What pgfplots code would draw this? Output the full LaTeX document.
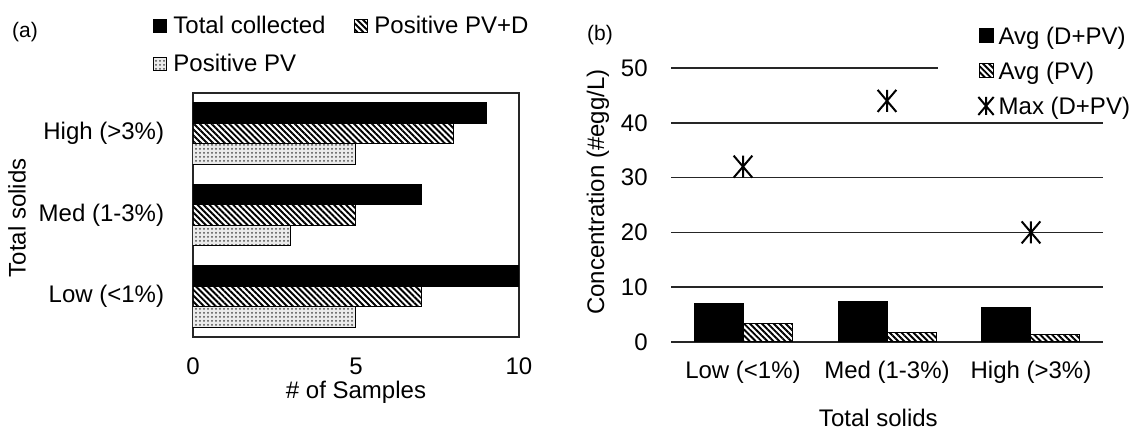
\documentclass[border=0pt,12pt]{standalone}
\usepackage{fontspec}
\setmainfont{Liberation Sans}
\usepackage{pgfplots}
\pgfplotsset{compat=1.18}
\usetikzlibrary{patterns.meta}

% six-armed star used for the maximum values
\pgfdeclareplotmark{maxstar}{%
  \pgfpathmoveto{\pgfqpoint{0pt}{-\pgfplotmarksize}}%
  \pgfpathlineto{\pgfqpoint{0pt}{\pgfplotmarksize}}%
  \pgfpathmoveto{\pgfqpoint{-0.85\pgfplotmarksize}{-\pgfplotmarksize}}%
  \pgfpathlineto{\pgfqpoint{0.85\pgfplotmarksize}{\pgfplotmarksize}}%
  \pgfpathmoveto{\pgfqpoint{-0.85\pgfplotmarksize}{\pgfplotmarksize}}%
  \pgfpathlineto{\pgfqpoint{0.85\pgfplotmarksize}{-\pgfplotmarksize}}%
  \pgfusepathqstroke}

\tikzset{
  solid bar/.style={fill=black, draw=black, line width=0.5pt},
  hatch bar/.style={draw=black, line width=0.5pt,
    pattern={Lines[angle=-45,distance=2.1pt,line width=0.95pt]}, pattern color=black},
  dot bar/.style={draw=black, line width=0.5pt, fill=black!8,
    postaction={pattern={Dots[distance=2pt,radius=0.5pt]}, pattern color=black!70}},
}
\pgfplotsset{
  small square/.style={legend image code/.code={\draw[##1] (0pt,-2.25pt) rectangle (6.5pt,4.25pt);}},
  big square/.style={legend image code/.code={\draw[##1] (0pt,-2.5pt) rectangle (7pt,4.5pt);}},
  star legend/.style={legend image code/.code={\draw[##1, mark size=4.5pt] plot coordinates {(3.5pt,1pt)};}},
}

\begin{document}
\begin{tikzpicture}

% (a) samples per solids class
\begin{axis}[
  at={(96.5pt,46pt)}, anchor=south west,
  scale only axis, width=163pt, height=122pt,
  xbar,
  xmin=0, xmax=10, ymin=-0.5, ymax=2.5,
  xtick={0,5,10}, ytick={0,1,2},
  yticklabels={{Low (<1\%)},{Med (1-3\%)},{High (>3\%)}},
  tick style={draw=none},
  axis line style={line width=0.8pt, black!85},
  /pgf/number format/assume math mode=true,
  xticklabel style={anchor=center, inner sep=0pt, yshift=-14.5pt},
  yticklabel style={anchor=east, inner sep=0pt, xshift=-10pt},
  xlabel={\# of Samples}, ylabel={Total solids},
  every axis x label/.style={at={(axis description cs:0.5,-0.225)}, anchor=center},
  every axis y label/.style={at={(axis description cs:-0.54,0.488)}, anchor=center, rotate=90},
  legend columns=2,
  legend cell align=left,
  legend style={at={(axis description cs:-0.1227,1.316)}, anchor=north west,
    draw=none, fill=none, inner sep=0pt,
    nodes={inner sep=0pt, text height=8.8pt, text depth=2.6pt},
    row sep=7.6pt, column sep=3pt,
    /tikz/every even column/.append style={column sep=14.5pt}},
]
\addplot[solid bar, bar width=10.25pt, bar shift=10.25pt, small square]
  coordinates {(10,0) (7,1) (9,2)};
\addplot[hatch bar, bar width=10.25pt, bar shift=0pt, small square]
  coordinates {(7,0) (5,1) (8,2)};
\addplot[dot bar, bar width=10.25pt, bar shift=-10.25pt, small square]
  coordinates {(5,0) (3,1) (5,2)};
\legend{Total collected, Positive PV+D, Positive PV}
\end{axis}

% (b) egg concentrations
\begin{axis}[
  at={(335.5pt,43.5pt)}, anchor=south west,
  scale only axis, width=216pt, height=137pt,
  xmin=-0.5, xmax=2.5, ymin=0, ymax=50,
  xtick={0,1,2}, xticklabels={{Low (<1\%)},{Med (1-3\%)},{High (>3\%)}},
  ytick={0,10,...,50},
  ymajorgrids, grid style={line width=0.75pt, black!85},
  axis line style={draw=none}, tick style={draw=none},
  /pgf/number format/assume math mode=true,
  xticklabel style={anchor=center, inner sep=0pt, yshift=-15pt},
  yticklabel style={anchor=east, inner sep=0pt, xshift=-11.5pt},
  xlabel={Total solids}, ylabel={Concentration (\#egg/L)},
  every axis x label/.style={at={(axis description cs:0.48,-0.277)}, anchor=center},
  every axis y label/.style={at={(axis description cs:-0.169,0.547)}, anchor=center, rotate=90},
  clip=false,
  legend style={at={(axis description cs:0.618,1.16)}, anchor=north west,
    draw=none, fill=white, inner xsep=20pt, inner ysep=1pt,
    nodes={inner sep=0pt, text height=8.8pt, text depth=2.6pt},
    row sep=6.1pt, column sep=2.5pt},
  legend cell align=left,
]
\addplot[ybar, solid bar, bar width=24.5pt, bar shift=-12.25pt, big square]
  coordinates {(0,7.0) (1,7.3) (2,6.3)};
\addplot[ybar, hatch bar, bar width=24.5pt, bar shift=12.25pt, big square]
  coordinates {(0,3.4) (1,1.8) (2,1.4)};
\addplot[only marks, black, mark=maxstar, mark size=5.5pt,
  mark options={line width=1pt}, star legend]
  coordinates {(0,32) (1,44) (2,20)};
\legend{Avg (D+PV), Avg (PV), Max (D+PV)}
\end{axis}

\node[font=\fontsize{10.5}{12}\selectfont] at (12.5pt,198.5pt) {(a)};
\node[font=\fontsize{10.5}{12}\selectfont] at (300pt,197pt) {(b)};

\pgfresetboundingbox
\path[use as bounding box] (0,0) rectangle (566pt,214.5pt);
\end{tikzpicture}
\end{document}
